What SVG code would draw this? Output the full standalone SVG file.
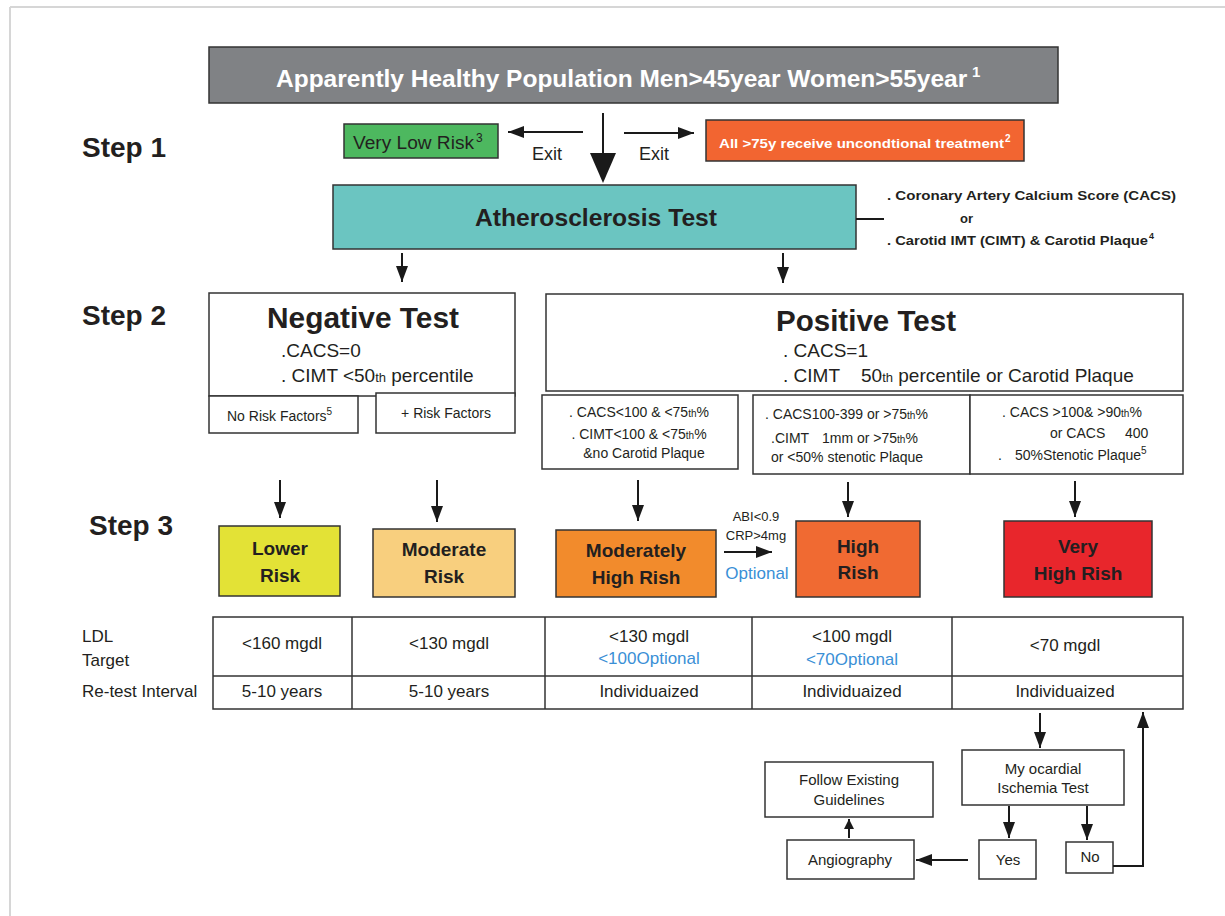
<svg xmlns="http://www.w3.org/2000/svg" width="1225" height="916" viewBox="0 0 1225 916">
<defs>
<marker id="ah" viewBox="0 0 16 12" refX="16" refY="6" markerWidth="16" markerHeight="12" markerUnits="userSpaceOnUse" orient="auto">
<path d="M0,0 L16,6 L0,12 z" fill="#1a1a1a"/>
</marker>
<marker id="ahs" viewBox="0 0 10 10" refX="10" refY="5" markerWidth="10" markerHeight="10" markerUnits="userSpaceOnUse" orient="auto">
<path d="M0,0 L10,5 L0,10 z" fill="#1a1a1a"/>
</marker>
<style>
text{font-family:"Liberation Sans",Arial,sans-serif;fill:#231f20}
.box{stroke:#333;stroke-width:1.5}
.wb{fill:#fff;stroke:#333;stroke-width:1.5}
.step{font-size:28px;font-weight:bold}
.risk{font-size:19px;font-weight:bold;text-anchor:middle}
.c{text-anchor:middle}
.sm{font-size:15px}
.md{font-size:17px}
.blue{fill:#3a8fd6}
.conn line,.conn path{stroke:#1a1a1a;stroke-width:2;fill:none}
</style>
</defs>
<g id="frame">
<line x1="10" y1="7" x2="1225" y2="7" stroke="#d6d6d6" stroke-width="2"/>
<line x1="10" y1="7" x2="10" y2="916" stroke="#d6d6d6" stroke-width="2"/>
</g>
<g id="steps">
<text class="step" x="82" y="157">Step 1</text>
<text class="step" x="82" y="325">Step 2</text>
<text class="step" x="89" y="535">Step 3</text>
</g>
<g id="header">
<rect class="box" x="209" y="47" width="849" height="56" fill="#808285"/>
<text x="276" y="87" font-size="24.5" font-weight="bold" style="fill:#fff">Apparently Healthy Population Men&gt;45year Women&gt;55year</text>
<text x="972" y="77" font-size="15" font-weight="bold" style="fill:#fff">1</text>
</g>
<g id="very-low">
<rect class="box" x="344" y="124" width="154" height="34" fill="#4db85f"/>
<text x="353" y="149" font-size="18" textLength="121" lengthAdjust="spacingAndGlyphs">Very Low Risk</text>
<text x="476" y="142" font-size="12">3</text>
</g>
<g id="treat">
<rect class="box" x="706" y="120" width="318" height="41" fill="#f26531"/>
<text x="719" y="148" font-size="13" font-weight="bold" style="fill:#fff" textLength="285" lengthAdjust="spacingAndGlyphs">All &gt;75y receive uncondtional treatment</text>
<text x="1005" y="142" font-size="10" font-weight="bold" style="fill:#fff">2</text>
</g>
<g id="exit-labels">
<text x="532" y="160" font-size="18">Exit</text>
<text x="639" y="160" font-size="18">Exit</text>
</g>
<g id="athero">
<rect class="box" x="333" y="185" width="523" height="64" fill="#6bc5c1"/>
<text x="596" y="226" class="c" font-size="24" font-weight="bold" textLength="242" lengthAdjust="spacingAndGlyphs">Atherosclerosis Test</text>
</g>
<g id="athero-note">
<text x="887" y="200" font-size="13" font-weight="bold" textLength="289" lengthAdjust="spacingAndGlyphs">. Coronary Artery Calcium Score (CACS)</text>
<text x="960" y="223" font-size="13" font-weight="bold">or</text>
<text x="887" y="245" font-size="13" font-weight="bold" textLength="261" lengthAdjust="spacingAndGlyphs">. Carotid IMT (CIMT) &amp; Carotid Plaque</text>
<text x="1149" y="239" font-size="9" font-weight="bold">4</text>
</g>
<g id="negative">
<rect class="wb" x="209" y="293" width="306" height="103"/>
<text x="363" y="328" class="c" font-size="30" font-weight="bold" textLength="192" lengthAdjust="spacingAndGlyphs">Negative Test</text>
<text x="281" y="357" font-size="19">.CACS=0</text>
<text x="281" y="382" font-size="19">. CIMT &lt;50<tspan font-size="13">th</tspan> percentile</text>
</g>
<g id="no-rf">
<rect class="wb" x="209" y="396" width="149" height="37"/>
<text x="227" y="421" font-size="14">No Risk Factors<tspan font-size="10" dy="-6">5</tspan></text>
</g>
<g id="plus-rf">
<rect class="wb" x="376" y="393" width="139" height="40"/>
<text x="446" y="418" class="c" font-size="14">+ Risk Factors</text>
</g>
<g id="positive">
<rect class="wb" x="546" y="294" width="637" height="97"/>
<text x="866" y="331" class="c" font-size="30" font-weight="bold" textLength="180" lengthAdjust="spacingAndGlyphs">Positive Test</text>
<text x="783" y="357" font-size="19">. CACS=1</text>
<text x="783" y="382" font-size="19">. CIMT   <tspan x="861">50</tspan><tspan font-size="13">th</tspan> percentile or Carotid Plaque</text>
</g>
<g id="pos-a">
<rect class="wb" x="542" y="395" width="196" height="74"/>
<text x="639" y="417" class="c" font-size="14">. CACS&lt;100 &amp; &lt;75<tspan font-size="10">th</tspan>%</text>
<text x="639" y="439" class="c" font-size="14">. CIMT&lt;100 &amp; &lt;75<tspan font-size="10">th</tspan>%</text>
<text x="644" y="458" class="c" font-size="14">&amp;no Carotid Plaque</text>
</g>
<g id="pos-b">
<rect class="wb" x="753" y="395" width="217" height="79"/>
<text x="765" y="419" font-size="14">. CACS100-399 or &gt;75<tspan font-size="10">th</tspan>%</text>
<text x="771" y="443" font-size="14">.CIMT <tspan x="822">1mm or &gt;75</tspan><tspan font-size="10">th</tspan>%</text>
<text x="771" y="462" font-size="14">or &lt;50% stenotic Plaque</text>
</g>
<g id="pos-c">
<rect class="wb" x="970" y="395" width="213" height="79"/>
<text x="1002" y="417" font-size="14">. CACS &gt;100&amp; &gt;90<tspan font-size="10">th</tspan>%</text>
<text x="1050" y="438" font-size="14">or CACS <tspan x="1125">400</tspan></text>
<text x="998" y="460" font-size="14">. <tspan x="1015">50%Stenotic Plaque</tspan><tspan font-size="10" dy="-6">5</tspan></text>
</g>
<g id="lower">
<rect class="box" x="219" y="526" width="121" height="70" fill="#e3e236"/>
<text x="280" y="555" class="risk">Lower</text>
<text x="280" y="582" class="risk">Risk</text>
</g>
<g id="moderate">
<rect class="box" x="373" y="529" width="142" height="68" fill="#f8cf7e"/>
<text x="444" y="556" class="risk">Moderate</text>
<text x="444" y="583" class="risk">Risk</text>
</g>
<g id="mod-high">
<rect class="box" x="556" y="530" width="160" height="67" fill="#f28b2c"/>
<text x="636" y="557" class="risk">Moderately</text>
<text x="636" y="584" class="risk">High Rish</text>
</g>
<g id="high">
<rect class="box" x="796" y="521" width="124" height="76" fill="#f06a32"/>
<text x="858" y="553" class="risk">High</text>
<text x="858" y="579" class="risk">Rish</text>
</g>
<g id="very-high">
<rect class="box" x="1004" y="521" width="148" height="76" fill="#e8262c"/>
<text x="1078" y="553" class="risk">Very</text>
<text x="1078" y="580" class="risk">High Rish</text>
</g>
<g id="abi-label">
<text x="756" y="521" class="c" font-size="13">ABI&lt;0.9</text>
<text x="756" y="540" class="c" font-size="13">CRP&gt;4mg</text>
<text x="757" y="579" class="c blue" font-size="17">Optional</text>
</g>
<g id="table">
<rect class="wb" x="213" y="617" width="970" height="92"/>
<line x1="213" y1="676" x2="1183" y2="676" stroke="#333" stroke-width="1.5"/>
<line x1="352" y1="617" x2="352" y2="709" stroke="#333" stroke-width="1.5"/>
<line x1="545" y1="617" x2="545" y2="709" stroke="#333" stroke-width="1.5"/>
<line x1="752" y1="617" x2="752" y2="709" stroke="#333" stroke-width="1.5"/>
<line x1="952" y1="617" x2="952" y2="709" stroke="#333" stroke-width="1.5"/>
<text x="82" y="642" class="md">LDL</text>
<text x="82" y="666" class="md">Target</text>
<text x="82" y="697" class="md">Re-test Interval</text>
<text x="282" y="649" class="c md">&lt;160 mgdl</text>
<text x="449" y="649" class="c md">&lt;130 mgdl</text>
<text x="649" y="642" class="c md">&lt;130 mgdl</text>
<text x="649" y="664" class="c md blue">&lt;100Optional</text>
<text x="852" y="642" class="c md">&lt;100 mgdl</text>
<text x="852" y="665" class="c md blue">&lt;70Optional</text>
<text x="1065" y="651" class="c md">&lt;70 mgdl</text>
<text x="282" y="697" class="c md">5-10 years</text>
<text x="449" y="697" class="c md">5-10 years</text>
<text x="649" y="697" class="c md">Individuaized</text>
<text x="852" y="697" class="c md">Individuaized</text>
<text x="1065" y="697" class="c md">Individuaized</text>
</g>
<g id="ischemia">
<rect class="wb" x="962" y="750" width="162" height="55"/>
<text x="1043" y="774" class="c sm">My ocardial</text>
<text x="1043" y="793" class="c sm">Ischemia Test</text>
</g>
<g id="yes">
<rect class="wb" x="979" y="840" width="57" height="39"/>
<text x="1008" y="865" class="c sm">Yes</text>
</g>
<g id="no">
<rect class="wb" x="1066" y="842" width="47" height="31"/>
<text x="1090" y="862" class="c sm">No</text>
</g>
<g id="angio">
<rect class="wb" x="787" y="840" width="127" height="39"/>
<text x="850" y="865" class="c sm">Angiography</text>
</g>
<g id="follow">
<rect class="wb" x="765" y="762" width="168" height="55"/>
<text x="849" y="785" class="c sm">Follow Existing</text>
<text x="849" y="805" class="c sm">Guidelines</text>
</g>
<g id="connectors" class="conn">
<line x1="583" y1="132" x2="508" y2="132" marker-end="url(#ah)"/>
<line x1="624" y1="133" x2="694" y2="133" marker-end="url(#ah)"/>
<line x1="603" y1="113" x2="603" y2="156" stroke-width="2.5"/>
<polygon points="590,153 616,153 603,183" fill="#1a1a1a" stroke="none"/>
<line x1="856" y1="219" x2="884" y2="219" stroke-width="1.2"/>
<line x1="402" y1="253" x2="402" y2="282" marker-end="url(#ah)"/>
<line x1="783" y1="253" x2="783" y2="283" marker-end="url(#ah)"/>
<line x1="280" y1="480" x2="280" y2="518" marker-end="url(#ah)"/>
<line x1="437" y1="480" x2="437" y2="522" marker-end="url(#ah)"/>
<line x1="638" y1="480" x2="638" y2="521" marker-end="url(#ah)"/>
<line x1="848" y1="482" x2="848" y2="517" marker-end="url(#ah)"/>
<line x1="1075" y1="481" x2="1075" y2="517" marker-end="url(#ah)"/>
<line x1="724" y1="552" x2="772" y2="552" stroke-width="2.5" marker-end="url(#ah)"/>
<line x1="1040" y1="713" x2="1040" y2="748" marker-end="url(#ah)"/>
<line x1="1009" y1="806" x2="1009" y2="838" marker-end="url(#ah)"/>
<line x1="1087" y1="806" x2="1087" y2="840" marker-end="url(#ah)"/>
<path d="M1113,866 H1143 V712" marker-end="url(#ah)"/>
<line x1="968" y1="860" x2="916" y2="860" marker-end="url(#ah)"/>
<line x1="849" y1="838" x2="849" y2="819" marker-end="url(#ahs)"/>
</g>
</svg>
